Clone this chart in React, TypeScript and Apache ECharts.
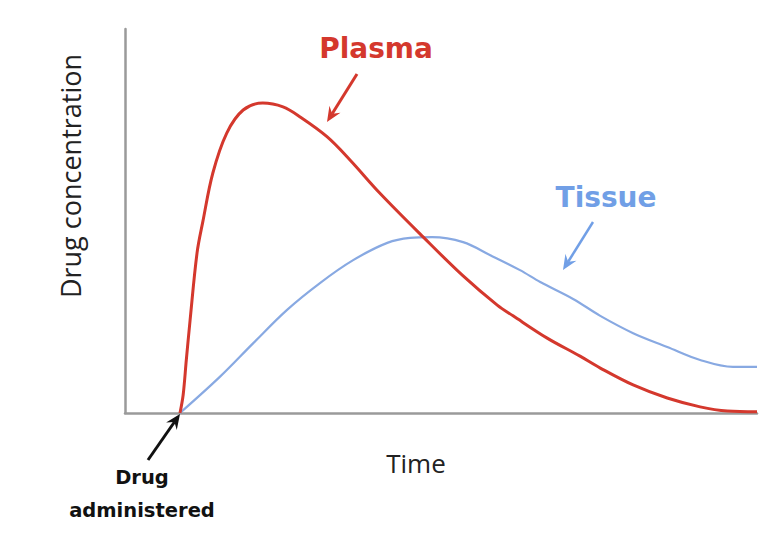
import React, { useEffect, useRef } from "react";
import * as echarts from "echarts";

// Time (arbitrary units, 0-100) and drug concentration (arbitrary units, 0-100)
const plasmaTime = [8.7, 9.2, 9.7, 10.3, 11.4, 12.3, 13.9, 16.1, 18.7, 21.8, 25.0, 27.7, 32.0, 35.6, 40.3, 47.2, 53.5, 58.9, 61.4, 66.8, 72.0, 75.2, 80.4, 85.8, 91.0, 95.3, 100];
const plasmaConc = [0, 4.7, 13.8, 24.2, 41.7, 49.7, 62.5, 72.9, 78.9, 80.7, 79.7, 77.1, 71.9, 65.9, 57.3, 45.8, 35.7, 28.1, 25.3, 19.5, 14.8, 11.7, 7.3, 3.9, 1.6, 0.5, 0.3];

const tissueTime = [8.7, 15.0, 20.3, 25.6, 30.9, 36.1, 41.5, 45.1, 48.6, 53.5, 57.8, 62.5, 65.7, 70.9, 75.2, 80.4, 85.8, 91.0, 96.2, 100];
const tissueConc = [0, 9.4, 18.2, 26.8, 33.9, 39.8, 44.3, 45.6, 45.8, 44.5, 41.1, 37.2, 34.1, 29.7, 25.3, 20.8, 17.2, 13.8, 12.0, 12.0];

const xAxisName = "Time";
const yAxisName = "Drug concentration";

const RED = "#d4382d";
const BLUE = "#88a9e2";
const BLUE_TEXT = "#719fe6";

function arrow(tx: number, ty: number, px: number, py: number, color: string, lw: number) {
  const dx = px - tx;
  const dy = py - ty;
  const len = Math.sqrt(dx * dx + dy * dy);
  const ux = dx / len;
  const uy = dy / len;
  const nx = -uy;
  const ny = ux;
  const L = 15;
  const W = 6.5;
  const bx = px - L * ux;
  const by = py - L * uy;
  const mx = px - 0.65 * L * ux;
  const my = py - 0.65 * L * uy;
  return [
    {
      type: "line",
      shape: { x1: tx, y1: ty, x2: mx, y2: my },
      style: { stroke: color, lineWidth: lw },
      z: 10,
    },
    {
      type: "polygon",
      shape: {
        points: [
          [px, py],
          [bx + W * nx, by + W * ny],
          [mx, my],
          [bx - W * nx, by - W * ny],
        ],
      },
      style: { fill: color },
      z: 10,
    },
  ];
}

export default function App() {
  const ref = useRef<HTMLDivElement>(null);
  useEffect(() => {
    if (!ref.current) return;
    const chart = echarts.init(ref.current, undefined, { renderer: "svg" });
    const plasma = plasmaTime.map((t, i) => [t, plasmaConc[i]]);
    const tissue = tissueTime.map((t, i) => [t, tissueConc[i]]);
    chart.setOption({
      animation: false,
      backgroundColor: "#ffffff",
      grid: { left: 125, top: 29, right: 19, bottom: 121 },
      xAxis: {
        type: "value",
        min: 0,
        max: 100,
        axisLine: { show: true, lineStyle: { color: "#9a9a9a", width: 2.5 } },
        axisTick: { show: false },
        axisLabel: { show: false },
        splitLine: { show: false },
      },
      yAxis: {
        type: "value",
        min: 0,
        max: 100,
        axisLine: { show: true, lineStyle: { color: "#9a9a9a", width: 2.5 } },
        axisTick: { show: false },
        axisLabel: { show: false },
        splitLine: { show: false },
      },
      series: [
        {
          name: "Tissue",
          type: "line",
          data: tissue,
          showSymbol: false,
          smooth: 0.35,
          lineStyle: { color: BLUE, width: 2.2 },
          z: 2,
        },
        {
          name: "Plasma",
          type: "line",
          data: plasma,
          showSymbol: false,
          smooth: 0.35,
          lineStyle: { color: RED, width: 3 },
          z: 3,
        },
      ],
      graphic: [
        {
          type: "text",
          x: 376,
          y: 48,
          style: {
            text: "Plasma",
            fill: RED,
            font: "bold 28px 'DejaVu Sans'",
            textAlign: "center",
            textVerticalAlign: "middle",
          },
        },
        {
          type: "text",
          x: 606,
          y: 197,
          style: {
            text: "Tissue",
            fill: BLUE_TEXT,
            font: "bold 28px 'DejaVu Sans'",
            textAlign: "center",
            textVerticalAlign: "middle",
          },
        },
        {
          type: "text",
          x: 142,
          y: 477,
          style: {
            text: "Drug",
            fill: "#111111",
            font: "bold 19.5px 'DejaVu Sans'",
            textAlign: "center",
            textVerticalAlign: "middle",
          },
        },
        {
          type: "text",
          x: 142,
          y: 510,
          style: {
            text: "administered",
            fill: "#111111",
            font: "bold 19.5px 'DejaVu Sans'",
            textAlign: "center",
            textVerticalAlign: "middle",
          },
        },
        {
          type: "text",
          x: 416,
          y: 463,
          style: {
            text: xAxisName,
            fill: "#222222",
            font: "26px 'Open Sans'",
            textAlign: "center",
            textVerticalAlign: "middle",
          },
        },
        {
          type: "text",
          x: 70,
          y: 176,
          rotation: Math.PI / 2,
          style: {
            text: yAxisName,
            fill: "#222222",
            font: "27px 'Open Sans'",
            textAlign: "center",
            textVerticalAlign: "middle",
          },
        },
        ...arrow(357, 74, 327, 122, RED, 3),
        ...arrow(593, 222, 563, 270, BLUE_TEXT, 2.5),
        ...arrow(148, 460, 180, 414, "#111111", 3),
      ],
    });
    return () => chart.dispose();
  }, []);
  return (
    <div
      ref={ref}
      style={{ position: "fixed", left: 0, top: 0, width: 776, height: 534 }}
    />
  );
}
